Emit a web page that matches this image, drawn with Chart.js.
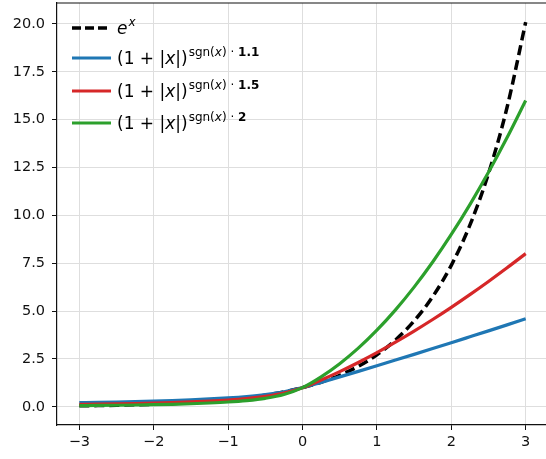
<!DOCTYPE html>
<html>
<head>
<meta charset="utf-8">
<script src="https://cdn.jsdelivr.net/npm/chart.js@4.4.1/dist/chart.umd.min.js"></script>
<style>
  html, body { margin: 0; padding: 0; background: #fff; overflow: hidden; }
  #wrap { position: relative; width: 560px; height: 459px; }
</style>
</head>
<body>
<div id="wrap"><canvas id="chart"></canvas></div>
<script>
// sample points along x
const xs = [-3, -2.75, -2.5, -2.25, -2, -1.75, -1.5, -1.25, -1, -0.75, -0.5, -0.25, 0,
            0.25, 0.5, 0.75, 1, 1.25, 1.5, 1.75, 2, 2.25, 2.5, 2.75, 3];

// e^x (black dashed)
const expVals = [0.050, 0.064, 0.082, 0.105, 0.135, 0.174, 0.223, 0.287, 0.368, 0.472, 0.607, 0.779, 1,
                 1.284, 1.649, 2.117, 2.718, 3.490, 4.482, 5.755, 7.389, 9.488, 12.182, 15.643, 20.086];

// (1+|x|)^(sgn(x)*1.1)
const pow11 = [0.218, 0.234, 0.252, 0.273, 0.299, 0.329, 0.365, 0.410, 0.466, 0.540, 0.640, 0.782, 1,
               1.278, 1.562, 1.851, 2.144, 2.440, 2.740, 3.043, 3.348, 3.657, 3.967, 4.280, 4.595];

// (1+|x|)^(sgn(x)*1.5)
const pow15 = [0.125, 0.138, 0.153, 0.171, 0.192, 0.219, 0.253, 0.296, 0.354, 0.432, 0.544, 0.716, 1,
               1.398, 1.837, 2.315, 2.828, 3.375, 3.953, 4.560, 5.196, 5.859, 6.548, 7.262, 8.0];

// (1+|x|)^(sgn(x)*2)
const pow20 = [0.0625, 0.0711, 0.0816, 0.0947, 0.111, 0.132, 0.160, 0.198, 0.250, 0.327, 0.444, 0.640, 1,
               1.5625, 2.25, 3.0625, 4, 5.0625, 6.25, 7.5625, 9, 10.5625, 12.25, 14.0625, 16];

const xTicks = [-3, -2, -1, 0, 1, 2, 3];
const yTicks = [0, 2.5, 5, 7.5, 10, 12.5, 15, 17.5, 20];

const FONT = "'DejaVu Sans', sans-serif";

const toPts = ys => xs.map((x, i) => ({ x: x, y: ys[i] }));

// legend entries drawn as math-like rich text
const legendItems = [
    { color: '#000000', dash: [9, 4], parts: [{ t: 'e', it: true }], sup: [{ t: 'x', it: true }] },
    { color: '#1f77b4', dash: [], parts: 'base', sup: '1.1' },
    { color: '#d62728', dash: [], parts: 'base', sup: '1.5' },
    { color: '#2ca02c', dash: [], parts: 'base', sup: '2' }
];

function drawRich(ctx, x, y, segs, size) {
    segs.forEach(s => {
        const w = s.b ? 'bold ' : '';
        const st = s.it ? 'italic ' : '';
        ctx.font = st + w + (s.size || size) + 'px ' + FONT;
        ctx.fillText(s.t, x, y + (s.dy || 0));
        x += ctx.measureText(s.t).width;
    });
    return x;
}

const legendPlugin = {
    id: 'mathLegend',
    afterDraw(chart) {
        const ctx = chart.ctx;
        const area = chart.chartArea;
        ctx.save();
        // top spine
        ctx.strokeStyle = '#111';
        ctx.lineWidth = 1.2;
        ctx.beginPath();
        ctx.moveTo(area.left, area.top);
        ctx.lineTo(area.right, area.top);
        ctx.stroke();

        const rowY = [28, 58, 91, 123];
        ctx.textBaseline = 'alphabetic';
        ctx.fillStyle = '#000';
        legendItems.forEach((item, i) => {
            const cy = rowY[i];
            ctx.strokeStyle = item.color;
            ctx.lineWidth = item.dash.length ? 3.5 : 3.2;
            ctx.setLineDash(item.dash);
            ctx.beginPath();
            ctx.moveTo(72, cy);
            ctx.lineTo(111, cy);
            ctx.stroke();
            ctx.setLineDash([]);

            const base = cy + 6;
            let x = 117;
            if (item.parts === 'base') {
                x = drawRich(ctx, x, base, [
                    { t: '(1 + |' }, { t: 'x', it: true }, { t: '|)' }
                ], 17);
                x += 1;
                drawRich(ctx, x, base, [
                    { t: 'sgn(', dy: -8 }, { t: 'x', it: true, dy: -8 }, { t: ')', dy: -8 },
                    { t: ' · ', dy: -8 }, { t: item.sup, b: true, dy: -8 }
                ], 12);
            } else {
                x = drawRich(ctx, x, base, item.parts, 17);
                drawRich(ctx, x + 1, base, item.sup.map(s => Object.assign({ dy: -8 }, s)), 12);
            }
        });
        ctx.restore();
    }
};

const ctx = document.getElementById('chart').getContext('2d');

new Chart(ctx, {
    type: 'line',
    data: {
        datasets: [
            { data: toPts(expVals), borderColor: '#000000', borderWidth: 3.5, borderDash: [10, 5] },
            { data: toPts(pow11), borderColor: '#1f77b4', borderWidth: 3.2 },
            { data: toPts(pow15), borderColor: '#d62728', borderWidth: 3.2 },
            { data: toPts(pow20), borderColor: '#2ca02c', borderWidth: 3.2 }
        ].map((d, i) => Object.assign(d, {
            pointRadius: 0,
            fill: false,
            cubicInterpolationMode: 'monotone',
            order: 4 - i
        }))
    },
    options: {
        responsive: true,
        maintainAspectRatio: false,
        animation: false,
        layout: { padding: { top: 3, right: 12, left: 0, bottom: 0 } },
        plugins: {
            legend: { display: false },
            tooltip: { enabled: false }
        },
        scales: {
            x: {
                type: 'linear',
                min: -3.3,
                max: 3.3,
                afterBuildTicks: s => { s.ticks = xTicks.map(v => ({ value: v })); },
                afterFit: s => { s.height = 34; s.paddingLeft = 0; s.paddingRight = 0; },
                grid: { color: '#dedede', lineWidth: 1, tickColor: '#111', tickLength: 5 },
                border: { color: '#111', width: 1.2 },
                ticks: {
                    color: '#111',
                    font: { family: FONT, size: 14.5 },
                    padding: 4,
                    maxRotation: 0,
                    callback: v => (v < 0 ? '\u2212' + Math.abs(v) : String(v))
                }
            },
            y: {
                min: -0.95,
                max: 21.09,
                afterBuildTicks: s => { s.ticks = yTicks.map(v => ({ value: v })); },
                afterFit: s => { s.width = 57; s.paddingTop = 0; s.paddingBottom = 0; },
                grid: { color: '#dedede', lineWidth: 1, tickColor: '#111', tickLength: 5 },
                border: { color: '#111', width: 1.2 },
                ticks: {
                    color: '#111',
                    font: { family: FONT, size: 14.5 },
                    padding: 7,
                    callback: v => v.toFixed(1)
                }
            }
        }
    },
    plugins: [legendPlugin]
});
</script>
</body>
</html>
